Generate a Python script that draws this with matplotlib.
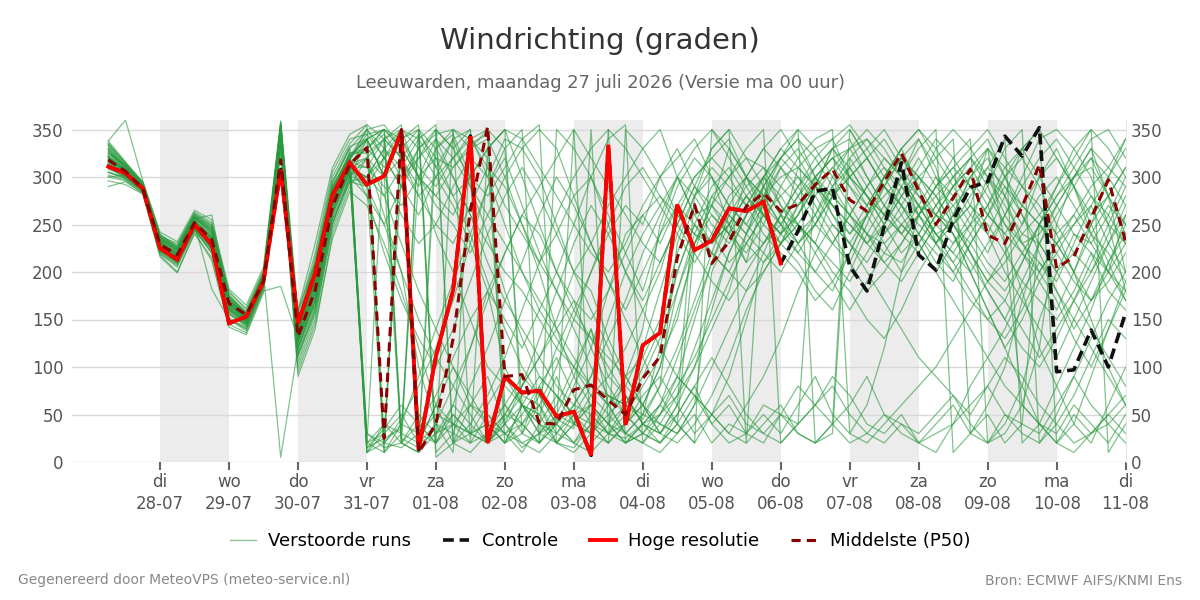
import numpy as np
import matplotlib
matplotlib.use("Agg")
import matplotlib.pyplot as plt
from matplotlib.lines import Line2D

# ---------------- data ----------------
day_names = ["di", "wo", "do", "vr", "za", "zo", "ma", "di", "wo", "do", "vr", "za", "zo", "ma", "di"]
day_dates = ["28-07", "29-07", "30-07", "31-07", "01-08", "02-08", "03-08", "04-08",
             "05-08", "06-08", "07-08", "08-08", "09-08", "10-08", "11-08"]
start_offset_days = -0.75      # first step: 27-07 06 uur (relative to 28-07 00 uur)
step_days = 0.25               # 6-hourly output
shaded_days = [0, 2, 4, 6, 8, 10, 12]

hres = [311, 304, 288, 225, 213, 250, 229, 146, 153, 190,
        308, 146, 199, 281, 315, 292, 301, 348, 13, 111,
        181, 343, 20, 90, 73, 75, 48, 53, 7, 334,
        39, 123, 136, 271, 223, 233, 267, 264, 274, 209]

control = hres[:39] + [209, 243, 285, 288, 206, 180, 248, 315, 218, 202,
                       255, 289, 295, 343, 322, 352, 95, 97, 139, 100, 157]

p50 = [318, 306, 288, 229, 218, 252, 234, 167, 155, 190,
       318, 132, 181, 269, 313, 331, 25, 350, 10, 40,
       130, 265, 353, 90, 92, 41, 40, 76, 81, 65,
       50, 88, 111, 215, 271, 209, 232, 269, 283, 264,
       271, 292, 308, 276, 264, 295, 325, 285, 250, 278,
       308, 239, 230, 269, 313, 204, 216, 257, 297, 232]

members = [
    [325, 312, 292, 235, 222, 258, 240, 172, 152, 195, 348, 142, 205, 290, 322,
     340, 350, 25, 15, 330, 345, 300, 40, 60, 30, 80, 45, 35, 350, 40,
     90, 140, 250, 300, 260, 270, 330, 300, 260, 240, 310, 290, 330, 300, 280,
     260, 300, 340, 310, 250, 270, 330, 230, 60, 120, 250, 300, 330, 280, 200],
    [318, 305, 288, 228, 215, 250, 230, 160, 148, 188, 352, 130, 180, 270, 312,
     20, 40, 30, 345, 320, 310, 330, 350, 20, 60, 50, 90, 40, 30, 70,
     60, 45, 80, 230, 280, 300, 250, 210, 280, 320, 340, 300, 270, 240, 260,
     300, 330, 290, 230, 260, 300, 320, 280, 250, 300, 330, 290, 240, 200, 260],
    [330, 308, 286, 222, 210, 248, 225, 155, 145, 192, 340, 120, 170, 265, 305,
     300, 330, 350, 40, 20, 60, 120, 180, 100, 60, 40, 20, 50, 80, 60,
     30, 50, 120, 200, 250, 230, 260, 290, 310, 270, 240, 260, 300, 330, 340,
     310, 280, 260, 290, 320, 340, 20, 40, 80, 150, 200, 240, 220, 180, 160],
    [315, 300, 290, 238, 230, 262, 250, 180, 160, 200, 355, 150, 210, 295, 330,
     10, 30, 300, 330, 345, 350, 340, 320, 40, 20, 30, 60, 100, 140, 90,
     70, 40, 30, 60, 280, 330, 350, 20, 300, 270, 250, 230, 280, 310, 330,
     350, 320, 300, 280, 250, 230, 200, 180, 210, 250, 280, 310, 340, 350, 320],
    [300, 302, 285, 225, 212, 245, 220, 150, 140, 185, 330, 100, 150, 250, 300,
     320, 300, 340, 355, 20, 40, 30, 20, 50, 80, 110, 150, 200, 180, 130,
     90, 60, 40, 30, 50, 20, 40, 30, 60, 50, 30, 20, 40, 350, 320,
     290, 270, 250, 230, 260, 300, 330, 310, 290, 270, 240, 200, 150, 100, 60],
    [335, 315, 295, 240, 225, 260, 245, 175, 155, 198, 350, 145, 200, 285, 325,
     330, 20, 15, 30, 50, 40, 20, 30, 60, 90, 70, 40, 60, 50, 30,
     20, 40, 50, 90, 150, 210, 260, 240, 280, 300, 310, 330, 340, 300, 280,
     260, 240, 270, 300, 280, 250, 220, 260, 300, 340, 350, 330, 300, 250, 180],
    [322, 307, 290, 230, 218, 252, 235, 168, 150, 190, 345, 135, 190, 275, 318,
     350, 330, 300, 320, 350, 330, 300, 280, 310, 340, 355, 20, 40, 60, 30,
     50, 80, 110, 150, 230, 260, 240, 220, 250, 290, 320, 340, 350, 30, 60,
     120, 200, 260, 280, 300, 320, 290, 250, 230, 210, 190, 230, 270, 300, 330],
    [312, 298, 284, 220, 205, 244, 222, 150, 138, 182, 335, 110, 160, 255, 295,
     290, 250, 200, 100, 40, 30, 20, 50, 30, 40, 60, 20, 15, 40, 30,
     25, 40, 60, 40, 20, 50, 70, 40, 30, 50, 40, 60, 80, 50, 30,
     20, 40, 30, 50, 70, 40, 20, 30, 60, 40, 20, 50, 30, 40, 60],
    [328, 310, 292, 236, 224, 256, 242, 172, 156, 196, 350, 140, 195, 282, 322,
     340, 300, 260, 230, 250, 290, 320, 300, 340, 330, 300, 250, 200, 160, 120,
     80, 60, 100, 180, 240, 280, 300, 320, 310, 290, 270, 290, 330, 350, 320,
     290, 270, 240, 210, 190, 230, 260, 300, 320, 290, 250, 220, 200, 240, 280],
    [305, 300, 287, 226, 214, 250, 228, 162, 146, 188, 342, 125, 175, 268, 310,
     15, 35, 60, 40, 20, 350, 330, 340, 300, 250, 200, 140, 90, 60, 40,
     30, 20, 50, 70, 100, 160, 220, 260, 300, 330, 350, 20, 30, 320, 290,
     260, 240, 220, 250, 280, 300, 270, 230, 180, 120, 80, 40, 20, 60, 100],
    [320, 306, 289, 231, 220, 254, 238, 165, 152, 192, 355, 138, 188, 278, 316,
     310, 340, 350, 300, 280, 260, 300, 330, 350, 30, 20, 40, 80, 120, 180,
     240, 260, 230, 270, 250, 220, 200, 240, 270, 310, 290, 260, 230, 210, 250,
     290, 320, 340, 300, 260, 220, 190, 210, 240, 230, 200, 170, 140, 110, 80],
    [332, 311, 291, 234, 217, 253, 236, 170, 154, 193, 348, 148, 205, 288, 320,
     30, 20, 340, 350, 310, 340, 290, 240, 180, 130, 90, 70, 50, 40, 20,
     350, 330, 300, 260, 240, 230, 250, 280, 260, 240, 260, 300, 320, 290, 270,
     300, 330, 350, 320, 290, 260, 240, 280, 330, 350, 20, 40, 90, 140, 190],
    [310, 303, 289, 229, 219, 251, 231, 163, 149, 189, 300, 160, 210, 290, 322,
     330, 350, 20, 40, 70, 110, 150, 180, 220, 260, 290, 320, 350, 20, 40,
     60, 100, 140, 200, 250, 290, 310, 280, 250, 230, 210, 180, 160, 200, 240,
     270, 300, 330, 350, 10, 30, 60, 100, 170, 230, 270, 300, 320, 280, 240],
    [327, 309, 288, 227, 213, 249, 229, 161, 147, 187, 340, 90, 140, 240, 290,
     320, 280, 230, 180, 140, 100, 60, 40, 30, 50, 80, 110, 70, 40, 20,
     40, 70, 90, 60, 30, 50, 90, 150, 210, 240, 270, 290, 280, 260, 240,
     230, 250, 270, 260, 240, 210, 180, 150, 120, 100, 130, 170, 210, 250, 290],
    [318, 307, 290, 233, 221, 257, 246, 174, 157, 197, 358, 150, 215, 300, 335,
     355, 340, 320, 345, 5, 20, 60, 90, 40, 15, 30, 50, 40, 70, 90,
     120, 160, 200, 260, 300, 320, 340, 300, 270, 250, 230, 250, 280, 300, 320,
     340, 310, 280, 250, 230, 250, 270, 310, 330, 300, 270, 240, 230, 260, 300],
    [300, 296, 283, 218, 200, 240, 215, 145, 136, 180, 185, 130, 165, 250, 300,
     280, 250, 290, 320, 340, 300, 260, 230, 200, 180, 150, 120, 100, 80, 70,
     60, 50, 40, 30, 60, 100, 140, 180, 220, 260, 290, 310, 330, 340, 300,
     270, 240, 260, 290, 310, 330, 350, 320, 290, 260, 240, 260, 290, 310, 340],
    [325, 313, 293, 237, 226, 260, 248, 176, 158, 199, 5, 120, 170, 260, 305,
     290, 10, 30, 20, 60, 40, 30, 20, 45, 70, 60, 30, 20, 40, 350,
     330, 300, 270, 240, 210, 240, 280, 300, 330, 350, 320, 290, 270, 250, 230,
     250, 280, 300, 320, 340, 30, 50, 20, 40, 250, 230, 200, 240, 270, 250],
    [315, 304, 287, 224, 211, 247, 226, 158, 144, 186, 338, 115, 165, 260, 305,
     20, 10, 40, 30, 20, 50, 30, 40, 20, 60, 90, 70, 40, 30, 20,
     40, 60, 30, 20, 40, 70, 110, 160, 200, 230, 250, 230, 210, 190, 220,
     250, 290, 270, 240, 220, 250, 300, 280, 230, 200, 170, 130, 100, 140, 180],
    [338, 316, 294, 239, 228, 263, 252, 178, 162, 202, 352, 155, 220, 305, 340,
     345, 350, 330, 300, 280, 310, 335, 345, 60, 40, 20, 350, 330, 300, 250,
     200, 160, 120, 90, 70, 50, 30, 20, 40, 60, 30, 20, 40, 60, 90,
     50, 30, 20, 30, 40, 60, 80, 50, 30, 20, 40, 20, 30, 50, 70],
    [308, 301, 286, 221, 208, 246, 224, 157, 142, 184, 336, 105, 155, 245, 295,
     300, 330, 310, 280, 300, 320, 340, 310, 270, 240, 210, 180, 150, 130, 110,
     90, 110, 150, 220, 270, 240, 210, 230, 260, 280, 300, 280, 250, 230, 260,
     280, 300, 260, 230, 200, 170, 150, 130, 160, 200, 230, 250, 270, 230, 200],
    [322, 309, 291, 234, 223, 256, 244, 171, 153, 194, 350, 142, 198, 283, 318,
     10, 20, 45, 80, 120, 170, 230, 290, 330, 350, 20, 50, 90, 140, 60,
     30, 20, 10, 30, 60, 200, 240, 300, 330, 310, 280, 250, 230, 260, 290,
     320, 300, 270, 240, 250, 280, 310, 340, 20, 40, 80, 120, 160, 210, 250],
    [312, 302, 288, 227, 216, 250, 232, 164, 150, 191, 346, 132, 185, 272, 314,
     330, 310, 340, 20, 30, 40, 60, 50, 30, 20, 10, 30, 60, 90, 150,
     200, 240, 270, 300, 280, 250, 230, 260, 290, 320, 350, 330, 300, 270, 240,
     220, 210, 240, 270, 300, 320, 300, 270, 240, 260, 290, 320, 350, 330, 300],
    [320, 305, 287, 229, 215, 252, 233, 166, 151, 190, 343, 128, 178, 266, 308,
     300, 320, 340, 300, 240, 200, 150, 100, 80, 60, 40, 30, 50, 60, 40,
     20, 30, 50, 80, 110, 150, 190, 230, 260, 240, 220, 250, 290, 310, 280,
     250, 220, 240, 270, 290, 320, 340, 300, 260, 220, 180, 140, 170, 200, 230],
    [330, 312, 293, 236, 225, 259, 247, 173, 156, 195, 357, 145, 205, 292, 330,
     350, 355, 330, 350, 10, 30, 80, 120, 170, 210, 260, 300, 270, 230, 190,
     150, 110, 70, 40, 20, 350, 330, 300, 280, 250, 220, 200, 230, 260, 290,
     310, 290, 260, 230, 210, 240, 270, 300, 330, 350, 320, 290, 250, 210, 170],
    [305, 299, 286, 223, 210, 247, 227, 159, 145, 187, 340, 118, 170, 262, 307,
     15, 25, 35, 300, 340, 320, 290, 260, 230, 200, 170, 140, 110, 80, 60,
     80, 120, 180, 240, 280, 310, 290, 270, 300, 330, 310, 290, 260, 240, 270,
     300, 320, 290, 260, 240, 200, 160, 120, 80, 40, 20, 10, 30, 50, 30],
    [316, 304, 290, 232, 219, 255, 239, 169, 152, 193, 349, 137, 193, 280, 320,
     340, 300, 20, 10, 40, 80, 50, 20, 40, 60, 50, 20, 10, 30, 50,
     70, 40, 20, 50, 80, 40, 20, 30, 50, 30, 60, 90, 50, 30, 20,
     40, 60, 80, 100, 130, 160, 190, 220, 250, 280, 300, 270, 240, 220, 190],
    [324, 310, 291, 231, 220, 254, 237, 168, 151, 191, 345, 139, 190, 277, 316,
     330, 345, 320, 290, 330, 350, 20, 330, 350, 300, 250, 200, 160, 200, 240,
     270, 250, 300, 330, 290, 260, 240, 270, 300, 320, 340, 320, 290, 260, 240,
     210, 190, 220, 250, 270, 290, 310, 290, 270, 250, 220, 190, 170, 190, 220],
    [296, 292, 282, 216, 199, 242, 212, 142, 134, 178, 325, 95, 145, 235, 285,
     270, 230, 180, 120, 60, 20, 10, 30, 50, 80, 110, 140, 170, 120, 80,
     50, 30, 20, 40, 70, 40, 60, 30, 20, 50, 80, 60, 40, 20, 30,
     50, 40, 20, 10, 40, 80, 110, 140, 180, 210, 180, 150, 120, 90, 60],
    [334, 314, 293, 235, 224, 258, 243, 170, 155, 196, 351, 144, 202, 287, 326,
     325, 340, 355, 20, 350, 330, 350, 30, 50, 40, 20, 40, 350, 320, 290,
     260, 230, 210, 250, 290, 270, 250, 230, 210, 230, 270, 300, 320, 300, 270,
     240, 260, 290, 330, 350, 330, 300, 260, 230, 240, 270, 300, 310, 280, 250],
    [319, 306, 289, 230, 217, 252, 234, 166, 150, 190, 347, 134, 186, 274, 315,
     20, 30, 50, 20, 40, 10, 340, 350, 330, 60, 30, 40, 20, 50, 30,
     40, 60, 100, 160, 220, 280, 260, 240, 220, 200, 230, 260, 290, 320, 340,
     320, 300, 280, 260, 250, 220, 190, 170, 140, 110, 140, 170, 200, 230, 260],
    [313, 303, 288, 226, 214, 249, 230, 163, 148, 189, 344, 127, 182, 270, 311,
     310, 290, 270, 300, 320, 280, 240, 190, 140, 100, 70, 40, 20, 10, 30,
     60, 90, 130, 180, 230, 270, 300, 330, 350, 20, 40, 300, 280, 260, 230,
     210, 230, 260, 290, 310, 290, 260, 240, 220, 190, 160, 200, 250, 300, 340],
    [321, 308, 290, 232, 219, 253, 236, 167, 152, 192, 348, 140, 195, 280, 318,
     345, 320, 290, 330, 350, 20, 30, 40, 20, 30, 60, 100, 150, 200, 250,
     290, 310, 280, 260, 240, 220, 200, 180, 200, 230, 260, 290, 310, 330, 350,
     330, 300, 270, 240, 220, 200, 230, 260, 290, 320, 340, 310, 280, 250, 230],
    [290, 295, 283, 219, 207, 244, 220, 152, 140, 183, 330, 112, 158, 252, 298,
     340, 300, 320, 280, 250, 230, 270, 310, 290, 250, 210, 240, 280, 300, 260,
     220, 180, 240, 290, 320, 300, 270, 250, 280, 310, 330, 300, 260, 230, 210,
     240, 270, 300, 280, 250, 220, 180, 150, 190, 230, 260, 290, 320, 300, 270],
    [338, 360, 296, 242, 232, 265, 255, 182, 165, 205, 359, 160, 230, 310, 345,
     355, 10, 350, 330, 300, 270, 230, 180, 150, 120, 160, 200, 250, 300, 340,
     355, 20, 40, 70, 120, 170, 220, 260, 290, 260, 230, 200, 180, 220, 260,
     290, 320, 300, 270, 240, 200, 160, 120, 150, 190, 220, 250, 280, 260, 230],
    [326, 306, 289, 233, 222, 256, 260, 170, 153, 194, 346, 136, 192, 276, 314,
     320, 260, 200, 150, 110, 80, 120, 170, 220, 260, 240, 200, 170, 150, 180,
     220, 260, 280, 250, 220, 190, 170, 200, 230, 260, 250, 230, 200, 180, 150,
     130, 160, 200, 230, 250, 270, 250, 220, 190, 170, 150, 180, 220, 200, 170],
    [322, 303, 287, 229, 216, 251, 182, 150, 142, 186, 342, 126, 176, 268, 311,
     300, 280, 310, 340, 355, 20, 40, 70, 110, 160, 210, 260, 300, 330, 350,
     20, 40, 30, 60, 100, 140, 180, 240, 290, 320, 300, 270, 240, 210, 180,
     200, 230, 260, 240, 210, 180, 150, 170, 210, 250, 290, 330, 350, 10, 40],
    [310, 300, 286, 224, 212, 248, 228, 165, 152, 192, 343, 128, 180, 270, 312,
     340, 350, 330, 300, 270, 250, 220, 260, 300, 330, 350, 330, 280, 230, 190,
     160, 200, 240, 270, 300, 320, 300, 270, 240, 220, 200, 170, 190, 220, 260,
     300, 330, 350, 330, 300, 270, 240, 200, 170, 140, 110, 150, 190, 230, 270],
    [333, 313, 292, 237, 226, 259, 244, 171, 154, 195, 350, 143, 200, 286, 324,
     20, 340, 320, 20, 60, 100, 70, 40, 20, 40, 70, 120, 160, 130, 100,
     70, 40, 60, 90, 70, 50, 30, 60, 90, 130, 180, 220, 250, 230, 200,
     170, 140, 110, 90, 70, 50, 80, 110, 90, 60, 40, 70, 110, 150, 130],
    [317, 304, 289, 230, 216, 252, 234, 167, 151, 191, 346, 134, 188, 275, 314,
     330, 350, 340, 310, 290, 320, 345, 300, 250, 200, 160, 130, 100, 70, 50,
     30, 50, 80, 120, 170, 220, 270, 300, 280, 250, 280, 310, 330, 310, 280,
     250, 280, 310, 340, 320, 290, 260, 240, 270, 300, 320, 290, 260, 280, 310],
    [305, 298, 286, 225, 211, 247, 226, 160, 146, 188, 338, 120, 170, 262, 306,
     10, 40, 20, 50, 30, 60, 40, 20, 30, 10, 40, 70, 50, 30, 60,
     90, 60, 30, 50, 80, 110, 80, 50, 30, 20, 40, 60, 90, 70, 40,
     30, 50, 20, 40, 60, 30, 20, 50, 40, 30, 60, 90, 60, 40, 20],
    [329, 311, 292, 235, 223, 257, 241, 170, 154, 194, 349, 141, 199, 284, 321,
     350, 320, 290, 260, 300, 340, 350, 20, 40, 80, 130, 180, 230, 270, 240,
     200, 170, 210, 250, 290, 330, 350, 320, 290, 260, 230, 250, 280, 300, 320,
     290, 260, 230, 200, 230, 260, 290, 330, 350, 20, 50, 90, 130, 170, 200],
    [314, 301, 287, 228, 215, 250, 231, 163, 149, 189, 344, 131, 184, 271, 313,
     280, 220, 170, 130, 100, 140, 190, 240, 280, 310, 280, 240, 200, 230, 270,
     300, 330, 350, 300, 260, 230, 250, 280, 260, 230, 250, 280, 310, 290, 260,
     230, 200, 230, 260, 290, 310, 280, 250, 220, 200, 230, 260, 230, 200, 180],
    [321, 307, 290, 231, 218, 253, 235, 166, 151, 191, 347, 136, 190, 276, 317,
     30, 15, 20, 350, 330, 300, 260, 210, 170, 140, 110, 80, 60, 90, 130,
     170, 220, 260, 300, 330, 350, 320, 290, 260, 240, 260, 290, 270, 250, 230,
     260, 290, 320, 290, 270, 240, 210, 190, 220, 250, 230, 200, 170, 210, 240],
    [302, 297, 285, 222, 209, 246, 224, 156, 144, 186, 337, 113, 162, 256, 302,
     290, 320, 350, 340, 310, 280, 300, 330, 350, 340, 310, 280, 250, 220, 200,
     230, 270, 300, 320, 340, 300, 270, 250, 230, 250, 280, 300, 320, 330, 300,
     270, 250, 230, 260, 290, 310, 330, 300, 270, 250, 280, 300, 330, 310, 290],
    [336, 314, 294, 238, 227, 261, 249, 175, 157, 198, 353, 147, 210, 295, 332,
     340, 20, 40, 90, 140, 190, 240, 290, 320, 270, 220, 180, 140, 100, 70,
     50, 30, 20, 40, 230, 270, 240, 210, 230, 260, 290, 320, 340, 355, 330,
     300, 270, 240, 220, 200, 230, 260, 290, 260, 230, 200, 220, 250, 280, 310],
    [311, 302, 288, 226, 214, 249, 229, 161, 147, 188, 341, 124, 173, 265, 309,
     320, 340, 20, 10, 30, 50, 30, 60, 90, 60, 30, 20, 40, 60, 40,
     20, 30, 60, 110, 160, 210, 250, 280, 300, 280, 250, 220, 190, 160, 190,
     220, 250, 230, 200, 170, 140, 110, 80, 60, 40, 30, 60, 40, 20, 50],
]

# ---------------- figure ----------------
plt.rcParams['font.family'] = ['DejaVu Sans']
fig = plt.figure(figsize=(12, 6), dpi=100)
ax = fig.add_axes([0.06, 0.23, 0.878, 0.57])

def times(n):
    return start_offset_days + step_days * np.arange(n)

for d in shaded_days:
    ax.axvspan(d, d + 1, color='#ececec', zorder=0, lw=0)

mem_color = '#2a9a3f'
for m in members:
    ax.plot(times(len(m)), m, color=mem_color, lw=0.9, alpha=0.6, zorder=2)

ax.plot(times(len(control)), control, color='#111111', lw=2.6, ls=(0, (3, 1.6)), zorder=3)
ax.plot(times(len(hres)), hres, color='#ff0000', lw=2.8, zorder=4, solid_joinstyle='miter')
ax.plot(times(len(p50)), p50, color='#8b0000', lw=2.2, ls=(0, (3, 2)), zorder=5)

ax.set_xlim(-1.276, 14)
ax.set_ylim(0, 360)
ax.set_yticks([0, 50, 100, 150, 200, 250, 300, 350])
ax.yaxis.grid(True, color='#d9d9d9', lw=1)
ax.set_axisbelow(True)
ax.set_xticks(np.arange(len(day_dates)))
ax.set_xticklabels([f"{a}\n{b}" for a, b in zip(day_names, day_dates)],
                   fontsize=12, color='#555555', linespacing=1.3)
ax.tick_params(axis='x', length=6, width=1.5, color='#666666', pad=2)
ax.tick_params(axis='y', length=0, labelsize=12, labelcolor='#555555', pad=6)
for s in ['top', 'left', 'bottom']:
    ax.spines[s].set_visible(False)
ax.spines['right'].set_color('#e6e6e6')

ax2 = ax.twinx()
ax2.set_ylim(0, 360)
ax2.set_yticks([0, 50, 100, 150, 200, 250, 300, 350])
ax2.tick_params(axis='y', length=0, labelsize=12, labelcolor='#555555', pad=4)
for s in ax2.spines.values():
    s.set_visible(False)

fig.text(0.5, 0.932, "Windrichting (graden)", ha='center', va='center',
         fontsize=21, color='#333333')
fig.text(0.5, 0.861, "Leeuwarden, maandag 27 juli 2026 (Versie ma 00 uur)",
         ha='center', va='center', fontsize=12.85, color='#666666')
fig.text(0.015, 0.033, "Gegenereerd door MeteoVPS (meteo-service.nl)",
         ha='left', va='center', fontsize=10, color='#888888')
fig.text(0.985, 0.033, "Bron: ECMWF AIFS/KNMI Ens",
         ha='right', va='center', fontsize=10, color='#888888')

handles = [
    Line2D([], [], color=mem_color, lw=0.9, alpha=0.6),
    Line2D([], [], color='#111111', lw=2.6, ls=(0, (3, 1.6))),
    Line2D([], [], color='#ff0000', lw=2.8),
    Line2D([], [], color='#8b0000', lw=2.2, ls=(0, (3, 2))),
]
labels = ["Verstoorde runs", "Controle", "Hoge resolutie", "Middelste (P50)"]
fig.legend(handles, labels, loc='center', bbox_to_anchor=(0.5, 0.098), ncol=4,
           frameon=False, fontsize=13, handlelength=1.45, columnspacing=1.75,
           handletextpad=0.7)

fig.savefig("out.png", dpi=100)
